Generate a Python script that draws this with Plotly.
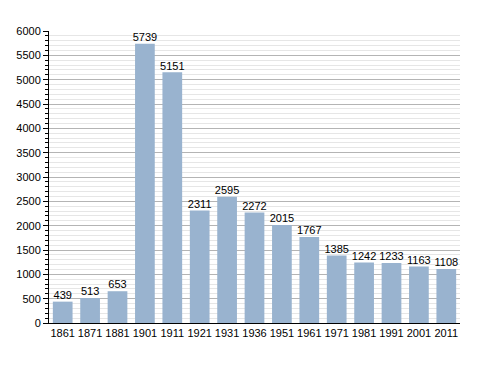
import plotly.graph_objects as go

years = ["1861", "1871", "1881", "1901", "1911", "1921", "1931", "1936", "1951", "1961", "1971", "1981", "1991", "2001", "2011"]
population = [439, 513, 653, 5739, 5151, 2311, 2595, 2272, 2015, 1767, 1385, 1242, 1233, 1163, 1108]

fig = go.Figure()
fig.add_trace(go.Bar(
    x=years, y=population,
    marker=dict(color="#99b3cf", line=dict(width=0)),
    width=0.72, hoverinfo="x+y",
))
fig.add_trace(go.Scatter(
    x=years, y=population, mode="text",
    text=[str(v) for v in population], textposition="top center",
    textfont=dict(family="Liberation Sans, Arial", size=11, color="#000"),
    cliponaxis=False, hoverinfo="skip",
))

fig.update_layout(
    width=488, height=373,
    margin=dict(l=49, r=28, t=31, b=50),
    plot_bgcolor="white", paper_bgcolor="white",
    font=dict(family="Liberation Sans, Arial", size=11, color="#000"),
    showlegend=False,
)
fig.update_xaxes(
    type="category", showline=True, linecolor="#000", linewidth=1,
    ticks="", showgrid=False, tickfont=dict(size=11), tickangle=0,
    range=[-0.5, len(years) - 0.5],
)
fig.update_yaxes(
    range=[0, 6000], dtick=500, showline=True, linecolor="#000", linewidth=1,
    ticks="outside", ticklen=5, tickcolor="#000",
    showgrid=True, gridcolor="#b4b4b4", gridwidth=1,
    minor=dict(dtick=100, showgrid=True, gridcolor="#e6e6e6", ticks="outside", ticklen=3, tickcolor="#000"),
    zeroline=False, tickfont=dict(size=11),
)

fig.write_html("out.html")
